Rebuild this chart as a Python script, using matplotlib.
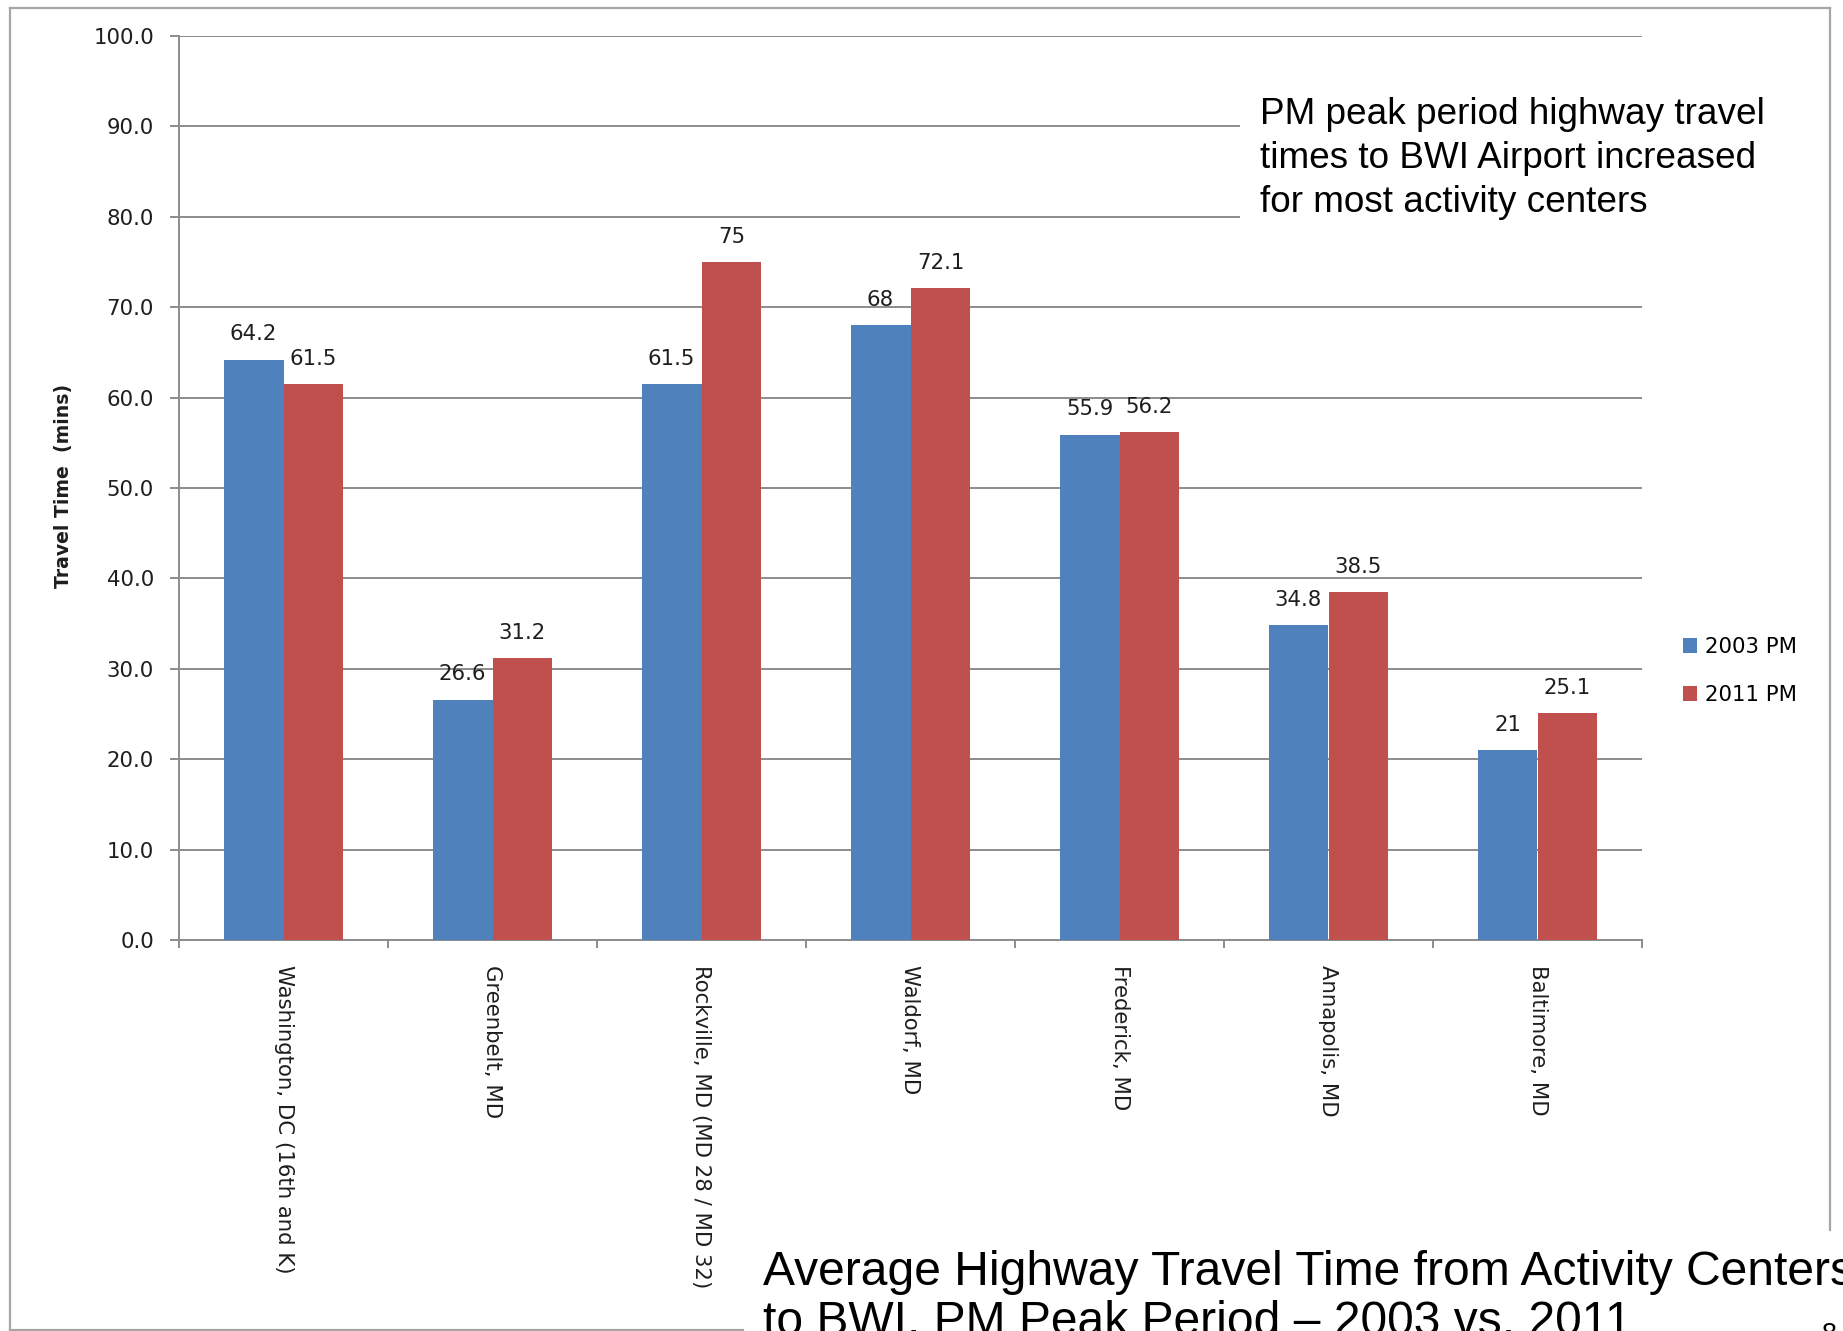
import matplotlib
matplotlib.use("Agg")
import matplotlib.pyplot as plt
import numpy as np
from matplotlib.lines import Line2D
from matplotlib.patches import Rectangle

# Activity centers and average PM peak travel times (minutes) to BWI
centers = [
    "Washington, DC (16th and K)",
    "Greenbelt, MD",
    "Rockville, MD (MD 28 / MD 32)",
    "Waldorf, MD",
    "Frederick, MD",
    "Annapolis, MD",
    "Baltimore, MD",
]
pm_2003 = [64.2, 26.6, 61.5, 68, 55.9, 34.8, 21]
pm_2011 = [61.5, 31.2, 75, 72.1, 56.2, 38.5, 25.1]
series_names = ["2003 PM", "2011 PM"]
y_ticks = [0, 10, 20, 30, 40, 50, 60, 70, 80, 90, 100]

note = ("PM peak period highway travel\n"
        "times to BWI Airport increased\n"
        "for most activity centers")
title = ("Average Highway Travel Time from Activity Centers\n"
         "to BWI, PM Peak Period \u2013 2003 vs. 2011")
page_no = "8"

W, H, DPI = 1843, 1331, 100
BLUE, RED = "#4F81BD", "#C0504D"
GRID = "#8c8c8c"
FRAME = "#a6a6a6"
TXT = "#1e1e1e"
FS = 15.3

plt.rcParams["font.family"] = ["DejaVu Sans"]


def fx(px):
    return px / W


def fy(py):
    return 1 - py / H


fig = plt.figure(figsize=(W / DPI, H / DPI), dpi=DPI)
fig.patch.set_facecolor("white")

ax = fig.add_axes([fx(179), fy(940), (1642 - 179) / W, (940 - 36) / H])

x = np.arange(len(centers))
bw = 0.287
b1 = ax.bar(x - bw / 2, pm_2003, bw, color=BLUE, label=series_names[0], zorder=3)
b2 = ax.bar(x + bw / 2, pm_2011, bw, color=RED, label=series_names[1], zorder=3)
ax.bar_label(b1, labels=[f"{v:g}" for v in pm_2003], padding=11, fontsize=FS, color=TXT)
ax.bar_label(b2, labels=[f"{v:g}" for v in pm_2011], padding=11, fontsize=FS, color=TXT)

ax.set_xlim(-0.5, len(centers) - 0.5)
ax.set_ylim(0, 100)
ax.set_yticks(y_ticks)
ax.set_yticklabels([f"{v:.1f}" for v in y_ticks], fontsize=FS, color=TXT)
ax.yaxis.grid(True, color=GRID, linewidth=1.4)
ax.set_axisbelow(True)

ax.set_xticks(x)
ax.set_xticklabels(centers, rotation=270, ha="center", va="top", fontsize=FS, color=TXT)
ax.set_xticks(np.arange(-0.5, len(centers)), minor=True)
ax.tick_params(axis="x", which="major", length=0, pad=18)
ax.tick_params(axis="x", which="minor", length=6, width=1.4, color=GRID, direction="out")
ax.tick_params(axis="y", length=6.5, width=1.4, color=GRID, pad=11.5)

for side in ("top", "right"):
    ax.spines[side].set_visible(False)
for side in ("left", "bottom"):
    ax.spines[side].set_color(GRID)
    ax.spines[side].set_linewidth(1.4)

ax.set_ylabel("Travel Time  (mins)", fontsize=13.6, fontweight="bold", color=TXT)
ax.yaxis.set_label_coords(fx(73), fy(486), transform=fig.transFigure)

ax.legend(loc="upper left", bbox_to_anchor=(fx(1683), fy(637)),
          bbox_transform=fig.transFigure, frameon=False, fontsize=FS,
          handlelength=0.66, handleheight=0.66, handletextpad=0.38,
          labelspacing=1.31, borderpad=0, borderaxespad=0)

# slide frame (open where the title sits)
frame_kw = dict(transform=fig.transFigure, color=FRAME, linewidth=1.6)
fig.add_artist(Line2D([fx(10), fx(10)], [fy(8), fy(1330)], **frame_kw))
fig.add_artist(Line2D([fx(10), fx(1830)], [fy(8), fy(8)], **frame_kw))
fig.add_artist(Line2D([fx(1830), fx(1830)], [fy(8), fy(1230)], **frame_kw))
fig.add_artist(Line2D([fx(10), fx(743)], [fy(1330), fy(1330)], **frame_kw))

# callout box over the upper-right gridlines
fig.add_artist(Rectangle((fx(1240), fy(298)), (1828 - 1240) / W, (298 - 45) / H,
                         transform=fig.transFigure, facecolor="white",
                         edgecolor="none", zorder=2))
fig.text(fx(1260), fy(97), note, ha="left", va="top", fontsize=26.6,
         family="Liberation Sans", color="black", linespacing=1.34, zorder=3)

fig.text(fx(763), fy(1250), title, ha="left", va="top", fontsize=34.6,
         family="Liberation Sans", color="black", linespacing=1.15, zorder=3)
fig.text(fx(1822), fy(1322), page_no, ha="left", va="top", fontsize=19.5,
         family="Liberation Sans", color="black", zorder=3)

fig.savefig("out.png", dpi=DPI, facecolor="white")
